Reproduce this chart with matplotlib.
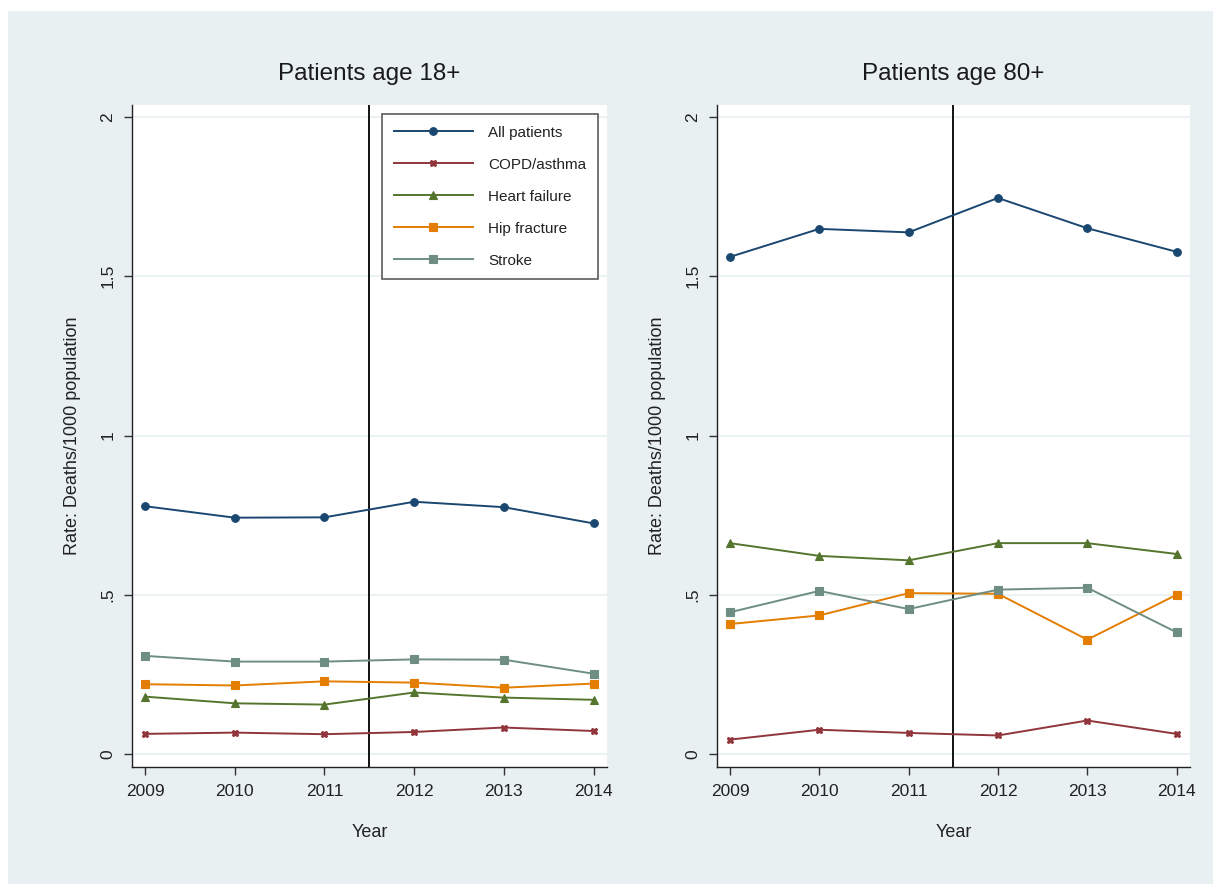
import numpy as np
import matplotlib.pyplot as plt
from matplotlib.patches import Rectangle

plt.rcParams['font.family'] = ['Liberation Sans', 'DejaVu Sans']

years = [2009, 2010, 2011, 2012, 2013, 2014]
series_names = ['All patients', 'COPD/asthma', 'Heart failure', 'Hip fracture', 'Stroke']

# rates, deaths per 1000 population
age18_all    = [0.778, 0.742, 0.743, 0.792, 0.775, 0.724]
age18_copd   = [0.063, 0.067, 0.062, 0.069, 0.083, 0.072]
age18_heart  = [0.180, 0.159, 0.155, 0.193, 0.177, 0.170]
age18_hip    = [0.219, 0.215, 0.228, 0.224, 0.208, 0.221]
age18_stroke = [0.308, 0.290, 0.290, 0.297, 0.296, 0.252]

age80_all    = [1.561, 1.649, 1.638, 1.746, 1.651, 1.577]
age80_copd   = [0.045, 0.076, 0.066, 0.058, 0.105, 0.063]
age80_heart  = [0.662, 0.622, 0.608, 0.662, 0.662, 0.628]
age80_hip    = [0.408, 0.435, 0.505, 0.503, 0.359, 0.500]
age80_stroke = [0.445, 0.512, 0.455, 0.516, 0.522, 0.382]

panel_titles = ['Patients age 18+', 'Patients age 80+']
yticks = [0, 0.5, 1, 1.5, 2]
ytick_labels = ['0', '.5', '1', '1.5', '2']
break_year = 2011.5

colors  = ['#1A476F', '#90353B', '#55752F', '#E37E00', '#6E8E84']
markers = ['o', 'X', '^', 's', 's']
msizes  = [5.5, 4.5, 6, 6, 6]

bg = '#E8F0F2'

fig = plt.figure(figsize=(12.13, 8.84), dpi=100)
fig.patch.set_facecolor('white')
fig.patches.append(Rectangle((8 / 1213, 0), 1, 1 - 11 / 884, transform=fig.transFigure,
                             facecolor=bg, edgecolor='none', zorder=-10))

ax_l = fig.add_axes([132 / 1213, 1 - 767 / 884, 475 / 1213, 662 / 884])
ax_r = fig.add_axes([717 / 1213, 1 - 767 / 884, 473 / 1213, 662 / 884])

panels = [
    (ax_l, [age18_all, age18_copd, age18_heart, age18_hip, age18_stroke]),
    (ax_r, [age80_all, age80_copd, age80_heart, age80_hip, age80_stroke]),
]

for i, (ax, data) in enumerate(panels):
    ax.set_facecolor('white')
    for vals, name, c, m, ms in zip(data, series_names, colors, markers, msizes):
        ax.plot(years, vals, color=c, marker=m, markersize=ms, lw=1.4,
                markeredgewidth=0.8, label=name, zorder=3)
    ax.axvline(break_year, color='black', lw=1.3, zorder=2)
    for yt in yticks:
        ax.axhline(yt, color=bg, lw=1.2, zorder=1)
    ax.set_xlim(2008.855, 2014.15)
    ax.set_ylim(-0.041, 2.038)
    ax.set_xticks(years)
    ax.set_xticklabels([str(y) for y in years], fontsize=12.5, color='#222222')
    ax.set_yticks(yticks)
    ax.set_yticklabels(ytick_labels, fontsize=12.5, color='#222222', rotation=90, va='center')
    ax.tick_params(length=6, width=1, color='#333333', pad=6)
    for side in ['top', 'right']:
        ax.spines[side].set_visible(False)
    for side in ['left', 'bottom']:
        ax.spines[side].set_color('#222222')
        ax.spines[side].set_linewidth(1.0)
    ax.set_xlabel('Year', fontsize=13, color='#222222', labelpad=18)
    ax.set_ylabel('Rate: Deaths/1000 population', fontsize=13, color='#222222', labelpad=14)
    ax.set_title(panel_titles[i], fontsize=17.5, color='#1a1a1a', pad=18)

leg = ax_l.legend(loc='upper right', fontsize=11, frameon=True, fancybox=False,
                  edgecolor='#333333', handlelength=5.2, handletextpad=1.0,
                  labelspacing=1.18, borderpad=0.75, borderaxespad=0.6)
leg.get_frame().set_linewidth(1.2)
for t in leg.get_texts():
    t.set_color('#222222')

fig.savefig('out.png', dpi=100, facecolor=fig.get_facecolor())
